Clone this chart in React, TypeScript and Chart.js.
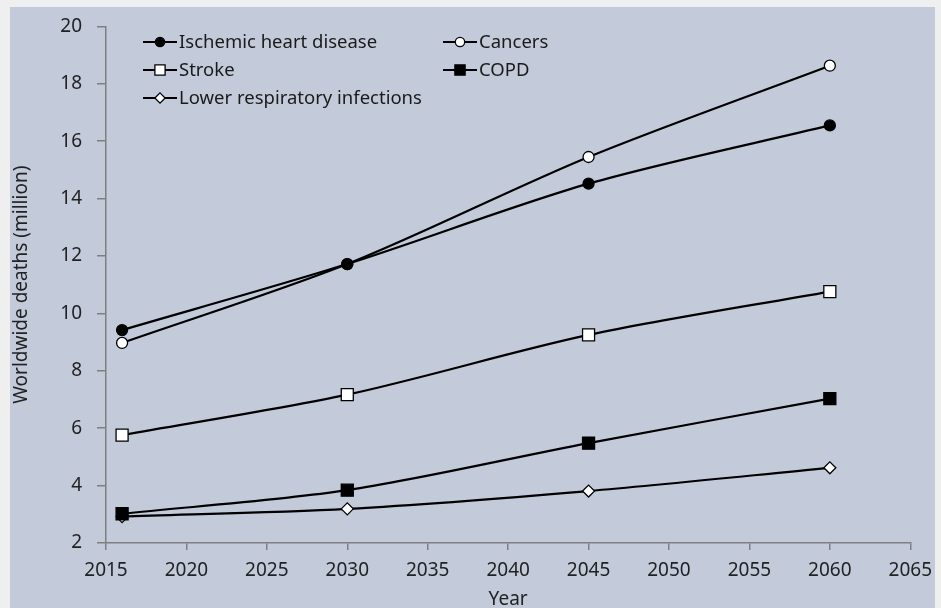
import React, { useEffect, useRef } from 'react';
import { Chart, registerables } from 'chart.js';

Chart.register(...registerables);

const years = [2016, 2030, 2045, 2060];
const seriesNames = [
  'Ischemic heart disease',
  'Cancers',
  'Stroke',
  'COPD',
  'Lower respiratory infections',
];
const ischemic = [9.42, 11.72, 14.52, 16.55];
const cancers = [8.97, 11.72, 15.45, 18.63];
const stroke = [5.76, 7.17, 9.25, 10.76];
const copd = [3.02, 3.84, 5.48, 7.03];
const lri = [2.92, 3.19, 3.81, 4.62];
const xAxisTitle = 'Year';
const yAxisTitle = 'Worldwide deaths (million)';

const FONT = '"Noto Sans", "DejaVu Sans", sans-serif';

const bgPlugin = {
  id: 'bgPlugin',
  beforeDraw(chart: any) {
    const { ctx, width, height } = chart;
    ctx.save();
    ctx.fillStyle = '#efefef';
    ctx.fillRect(0, 0, width, height);
    ctx.fillStyle = '#c3cbdb';
    ctx.fillRect(10, 7, 925, height - 7);
    ctx.restore();
  },
};

function drawMarker(ctx: any, style: string, x: number, y: number, r: number, fill: string) {
  ctx.beginPath();
  if (style === 'circle') {
    ctx.arc(x, y, r, 0, Math.PI * 2);
  } else if (style === 'rect') {
    const s = r * Math.SQRT1_2;
    ctx.rect(x - s, y - s, 2 * s, 2 * s);
  } else {
    ctx.moveTo(x, y - r);
    ctx.lineTo(x + r, y);
    ctx.lineTo(x, y + r);
    ctx.lineTo(x - r, y);
    ctx.closePath();
  }
  ctx.fillStyle = fill;
  ctx.fill();
  ctx.strokeStyle = '#000';
  ctx.lineWidth = 1.3;
  ctx.stroke();
}

const legendPlugin = {
  id: 'customLegend',
  afterDraw(chart: any) {
    const { ctx } = chart;
    const slots = [
      [143, 42],
      [443, 42],
      [143, 70],
      [443, 70],
      [143, 98],
    ];
    ctx.save();
    chart.data.datasets.forEach((ds: any, i: number) => {
      const [x0, y] = slots[i];
      ctx.beginPath();
      ctx.moveTo(x0, y);
      ctx.lineTo(x0 + 34, y);
      ctx.strokeStyle = '#000';
      ctx.lineWidth = 2.2;
      ctx.stroke();
      drawMarker(ctx, ds.pointStyle, x0 + 17, y, ds.pointRadius * 0.85, ds.pointBackgroundColor);
      ctx.fillStyle = '#1a1a1a';
      ctx.font = `18.5px ${FONT}`;
      ctx.textBaseline = 'middle';
      ctx.textAlign = 'left';
      ctx.fillText(ds.label, x0 + 36, y + 1);
    });
    ctx.restore();
  },
};

export default function App() {
  const ref = useRef<HTMLCanvasElement | null>(null);

  useEffect(() => {
    document.body.style.margin = '0';
    const mk = (label: string, vals: number[], style: string, fill: string, r: number) => ({
      label,
      data: years.map((y, i) => ({ x: y, y: vals[i] })),
      borderColor: '#000',
      borderWidth: 2.2,
      tension: 0.3,
      pointStyle: style,
      pointRadius: r,
      pointHoverRadius: r,
      pointBackgroundColor: fill,
      pointBorderColor: '#000',
      pointBorderWidth: 1.3,
      fill: false,
    });
    const chart = new Chart(ref.current as HTMLCanvasElement, {
      type: 'line',
      data: {
        datasets: [
          mk(seriesNames[0], ischemic, 'circle', '#000', 5.5),
          mk(seriesNames[1], cancers, 'circle', '#fff', 5.5),
          mk(seriesNames[2], stroke, 'rect', '#fff', 8.5),
          mk(seriesNames[3], copd, 'rect', '#000', 8.5),
          mk(seriesNames[4], lri, 'rectRot', '#fff', 6),
        ] as any,
      },
      options: {
        responsive: false,
        animation: false,
        layout: { padding: { left: 0, right: 27, top: 17, bottom: 0 } },
        plugins: {
          legend: { display: false },
          tooltip: { enabled: false },
        },
        scales: {
          x: {
            type: 'linear',
            min: 2015,
            max: 2065,
            afterFit: (s: any) => {
              s.height = 65;
            },
            ticks: {
              stepSize: 5,
              padding: 9,
              color: '#222',
              font: { family: FONT, size: 19 },
              callback: (v: any) => String(v),
            },
            grid: {
              drawOnChartArea: false,
              color: '#7f7f7f',
              lineWidth: 1.5,
              tickLength: 7,
            },
            border: { color: '#7f7f7f', width: 1.5 },
            title: {
              display: true,
              text: xAxisTitle,
              color: '#222',
              font: { family: FONT, size: 19 },
              padding: { top: 0, bottom: -3.4 },
            },
          },
          y: {
            type: 'linear',
            min: 2,
            max: 20,
            afterFit: (s: any) => {
              s.width = 106;
            },
            ticks: {
              stepSize: 2,
              padding: 15,
              color: '#222',
              font: { family: FONT, size: 19 },
            },
            grid: {
              drawOnChartArea: false,
              color: '#7f7f7f',
              lineWidth: 1.5,
              tickLength: 9,
            },
            border: { color: '#7f7f7f', width: 1.5 },
            title: {
              display: true,
              text: yAxisTitle,
              color: '#222',
              font: { family: FONT, size: 19 },
              padding: { top: 10.5, bottom: 0 },
            },
          },
        },
      } as any,
      plugins: [bgPlugin, legendPlugin],
    });
    return () => chart.destroy();
  }, []);

  return <canvas ref={ref} width={941} height={608} style={{ display: 'block' }} />;
}
